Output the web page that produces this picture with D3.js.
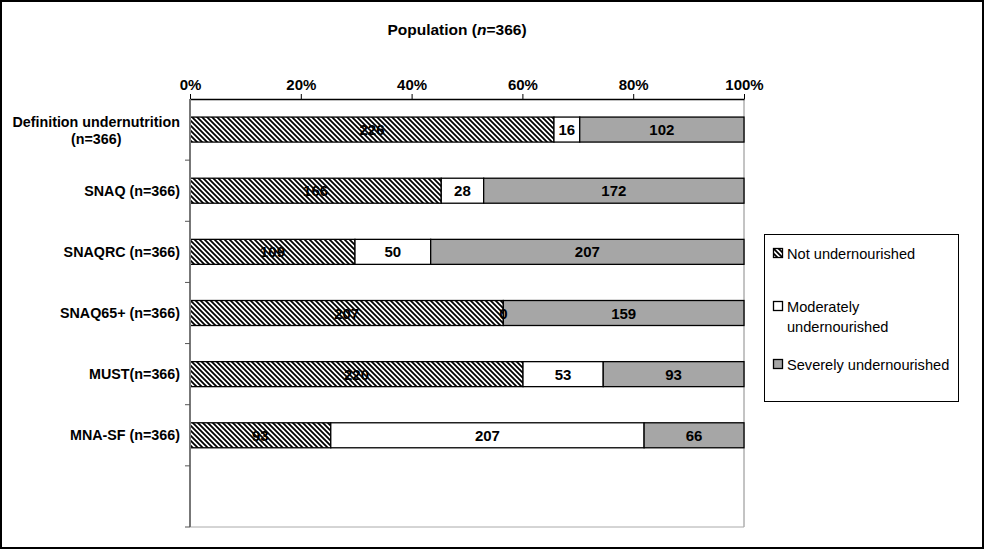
<!DOCTYPE html>
<html><head><meta charset="utf-8">
<script src="https://cdn.jsdelivr.net/npm/d3@7"></script>
<style>body{margin:0;background:#fff}svg{display:block;font-family:"Liberation Sans",Arial,sans-serif}</style>
</head><body>
<svg id="c" width="985" height="550"></svg>
<script>
const categories = [["Definition undernutrition","(n=366)"],["SNAQ (n=366)"],["SNAQRC (n=366)"],["SNAQ65+ (n=366)"],["MUST(n=366)"],["MNA-SF (n=366)"]];
const notUnder = [226,166,109,207,220,93];
const moderate = [16,28,50,0,53,207];
const severe = [102,172,207,159,93,66];
const seriesNames = ["Not undernourished","Moderately undernourished","Severely undernourished"];
const xTicks = [0,0.2,0.4,0.6,0.8,1];

const svg = d3.select("#c");
const defs = svg.append("defs");
const pat = defs.append("pattern").attr("id","hatch").attr("patternUnits","userSpaceOnUse")
  .attr("width",5).attr("height",5);
pat.append("rect").attr("width",5).attr("height",5).attr("fill","#fff");
pat.append("path").attr("d","M-1,-1 L6,6 M-6,-1 L1,6 M4,-1 L11,6").attr("stroke","#000").attr("stroke-width",1.8);

const fills = ["url(#hatch)","#fff","#a6a6a6"];

// outer frame
svg.append("rect").attr("x",1).attr("y",1).attr("width",982).attr("height",547).attr("fill","none").attr("stroke","#000").attr("stroke-width",2);

const L=190,R=744,T=99,B=527;
const x = d3.scaleLinear().domain([0,1]).range([L,R]);
const bandKeys = d3.range(7);
const y = d3.scaleBand().domain(bandKeys).range([T,B]);
const barH = 25;

svg.append("text").attr("x",457).attr("y",35).attr("text-anchor","middle").attr("font-size",15.5).attr("font-weight","bold")
  .html('Population (<tspan font-style="italic">n</tspan>=366)');

// plot border
svg.append("line").attr("x1",R).attr("x2",R).attr("y1",T).attr("y2",B).attr("stroke","#888").attr("stroke-width",1);
svg.append("line").attr("x1",L).attr("x2",R).attr("y1",B).attr("y2",B).attr("stroke","#aaa").attr("stroke-width",1);

const data = categories.map((c,i)=>{
  const vals=[notUnder[i],moderate[i],severe[i]];
  const tot=d3.sum(vals);
  let acc=0;
  return {c,i,segs:vals.map((v,k)=>{const s={v,k,x0:acc/tot,x1:(acc+v)/tot};acc+=v;return s;})};
});

const g = svg.append("g");
data.forEach(d=>{
  const yc = y(d.i)+y.bandwidth()/2;
  d.segs.forEach(s=>{
    g.append("rect").attr("x",x(s.x0)).attr("y",yc-barH/2).attr("width",x(s.x1)-x(s.x0)).attr("height",barH)
      .attr("fill",fills[s.k]).attr("stroke","#000").attr("stroke-width",1.3);
  });
  d.segs.forEach(s=>{
    g.append("text").attr("x",(x(s.x0)+x(s.x1))/2).attr("y",yc+5.5).attr("text-anchor","middle")
      .attr("font-size",15).attr("font-weight","bold").attr("fill","#000").text(s.v);
  });
  if(d.c.length===1){
    svg.append("text").attr("text-anchor","end").attr("font-size",14.3).attr("font-weight","bold")
      .attr("x",180).attr("y",yc+5).text(d.c[0]);
  } else {
    const t1 = svg.append("text").attr("text-anchor","end").attr("font-size",14.3).attr("font-weight","bold")
      .attr("x",180).attr("y",yc-3).text(d.c[0]);
    const w = t1.node().getComputedTextLength();
    svg.append("text").attr("text-anchor","middle").attr("font-size",14.3).attr("font-weight","bold")
      .attr("x",180-w/2).attr("y",yc+14).text(d.c[1]);
  }
});

// top axis
const xa = svg.append("g").attr("transform",`translate(0,${T})`)
  .call(d3.axisTop(x).tickValues(xTicks).tickFormat(d3.format(".0%")).tickSize(5).tickSizeOuter(0));
xa.select(".domain").attr("stroke","#000").attr("stroke-width",1.5);
xa.selectAll(".tick line").attr("stroke","#000");
xa.selectAll("text").attr("font-size",15).attr("font-weight","bold").attr("font-family","Liberation Sans, Arial, sans-serif").attr("fill","#000").attr("dy","-0.05em");

// left axis
const ya = svg.append("g").attr("transform",`translate(${L},0)`);
ya.append("line").attr("x1",0).attr("x2",0).attr("y1",T).attr("y2",B).attr("stroke","#777").attr("stroke-width",2);
d3.range(8).forEach(k=>{
  const yy = T + k*y.step();
  if(k>0) ya.append("line").attr("x1",-5).attr("x2",0).attr("y1",yy).attr("y2",yy).attr("stroke","#555");
});

// legend
const lg = svg.append("g");
lg.append("rect").attr("x",764.5).attr("y",234.5).attr("width",194).attr("height",167).attr("fill","#fff").attr("stroke","#000").attr("stroke-width",1);
const legY=[[254],[307,327],[365]];
const legLines=[["Not undernourished"],["Moderately","undernourished"],["Severely undernourished"]];
legLines.forEach((ls,k)=>{
  lg.append("rect").attr("x",773.5).attr("y",legY[k][0]-5.5).attr("width",9).attr("height",9).attr("fill",fills[k]).attr("stroke","#000").attr("stroke-width",1.3);
  const t = lg.append("text").attr("font-size",14.6).attr("fill","#000");
  ls.forEach((l,j)=>t.append("tspan").attr("x",787).attr("y",legY[k][j]+5).text(l));
});
</script>
</body></html>
